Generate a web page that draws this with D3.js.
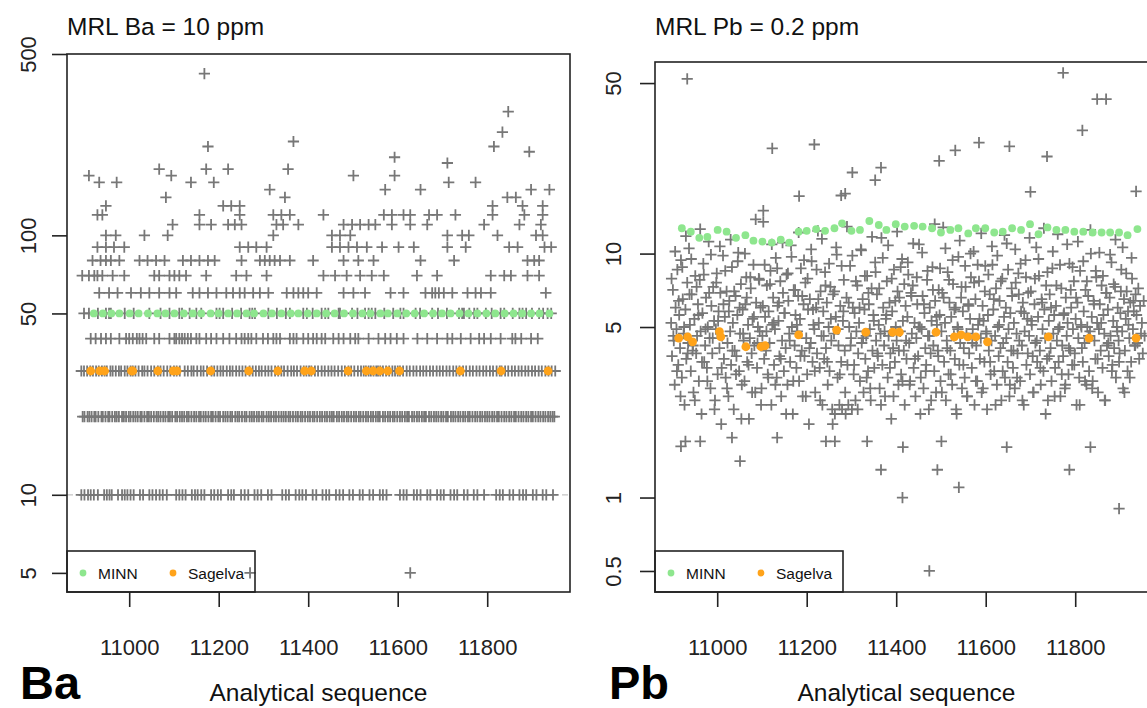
<!DOCTYPE html>
<html><head><meta charset="utf-8">
<script src="https://cdn.jsdelivr.net/npm/d3@7"></script>
<style>body{margin:0;background:#fff}svg{display:block}text{font-family:"Liberation Sans",Arial,Helvetica,sans-serif}</style>
</head><body><svg id="c" width="1147" height="708"></svg>
<script>
// ---------------- DATA ----------------
const xTicks = [11000, 11200, 11400, 11600, 11800];
const baTicks = [5, 10, 50, 100, 500];
const pbTicks = [0.5, 1, 5, 10, 50];
const baMRL = 10, pbMRL = 0.2;

// MINN reference material (analytical sequence numbers) and values
const minnSeq = [10921,10941,10960,10978,11001,11021,11042,11063,11081,11101,11122,11142,11161,11182,11200,11221,11241,11262,11279,11300,11319,11340,11361,11378,11399,11419,11440,11459,11480,11500,11521,11539,11561,11578,11599,11619,11638,11659,11679,11699,11718,11738,11758,11778,11798,11818,11839,11859,11878,11898,11917,11939];
const minnBa = [50,50,50,50,50,50,50,50,50,50,50,50,50,50,50,50,50,50,50,50,50,50,50,50,50,50,50,50,50,50,50,50,50,50,50,50,50,50,50,50,50,50,50,50,50,50,50,50,50,50,50,50];
const minnPb = [12.7,12.3,11.6,11.7,12.5,12.3,11.6,11.9,11.3,11.2,11.1,11.4,11.1,12.3,12.4,12.6,12.4,12.7,13.3,12.4,12.5,13.6,13.1,12.5,13.2,12.9,13.0,12.9,12.7,12.2,12.5,12.7,12.1,12.7,12.7,12.2,12.3,12.7,12.5,13.2,12.0,12.8,12.5,12.5,12.3,12.3,12.2,12.2,12.2,12.2,11.9,12.6];

// Sagelva reference material
const sagSeq = [10914,10934,10945,11005,11008,11064,11098,11107,11182,11267,11332,11392,11407,11489,11530,11545,11560,11578,11604,11740,11831,11936];
const sagBa = [30,30,30,30,30,30,30,30,30,30,30,30,30,30,30,30,30,30,30,30,30,30];
const sagPb = [4.50,4.56,4.35,4.79,4.56,4.15,4.15,4.19,4.64,4.86,4.76,4.76,4.76,4.76,4.56,4.64,4.56,4.56,4.35,4.56,4.50,4.50];

// Ba samples: sequence numbers per reported level (ppm)
const ba5 = [11270, 11628];
const ba10 = [10893,10900,10908,10914,10921,10930,10944,10950,10956,10961,10975,10984,10990,10996,11003,11010,11024,11031,11045,11052,11060,11068,11075,11084,11105,11112,11119,11126,11140,11147,11153,11161,11168,11183,11190,11198,11205,11221,11228,11234,11250,11258,11266,11280,11287,11295,11310,11318,11342,11350,11357,11372,11380,11387,11395,11410,11418,11432,11440,11447,11462,11470,11478,11492,11500,11515,11522,11537,11545,11560,11567,11575,11605,11613,11620,11636,11643,11651,11666,11673,11688,11696,11703,11718,11726,11733,11748,11756,11770,11778,11793,11820,11828,11835,11850,11858,11872,11880,11887,11902,11910,11924,11932,11947];
const ba20 = [10896,10900,10907,10911,10916,10922,10925,10931,10938,10941,10947,10953,10956,10962,10968,10972,10977,10984,10988,10993,10999,11003,11009,11014,11019,11025,11028,11034,11040,11044,11049,11055,11061,11065,11070,11076,11081,11087,11091,11096,11103,11107,11113,11118,11123,11129,11133,11139,11145,11150,11156,11160,11166,11171,11177,11183,11187,11193,11199,11203,11210,11215,11220,11226,11230,11237,11242,11246,11252,11258,11262,11269,11274,11279,11285,11290,11296,11300,11307,11312,11317,11323,11328,11334,11340,11345,11350,11356,11360,11366,11372,11377,11383,11387,11393,11399,11404,11410,11414,11420,11426,11431,11437,11442,11448,11453,11457,11464,11469,11475,11480,11486,11490,11496,11502,11507,11513,11517,11523,11529,11534,11540,11545,11551,11556,11560,11567,11572,11578,11583,11589,11593,11599,11605,11610,11616,11621,11625,11632,11637,11643,11648,11654,11659,11663,11670,11675,11681,11686,11691,11697,11702,11708,11712,11719,11724,11729,11735,11740,11746,11751,11757,11761,11767,11773,11778,11784,11789,11795,11800,11805,11811,11816,11822,11826,11832,11838,11843,11849,11854,11860,11864,11870,11876,11881,11887,11892,11898,11902,11908,11914,11919,11925,11930,11936,11941,11946,11950];
const ba30 = [10893,10899,10906,10913,10919,10926,10932,10939,10945,10950,10958,10963,10970,10977,10982,10990,10996,11003,11008,11014,11021,11029,11034,11041,11049,11056,11064,11070,11077,11085,11092,11100,11106,11113,11124,11131,11139,11144,11152,11160,11166,11174,11184,11190,11197,11204,11210,11218,11225,11231,11239,11246,11253,11260,11269,11276,11283,11290,11296,11304,11311,11318,11326,11333,11340,11346,11354,11362,11368,11375,11383,11390,11396,11402,11407,11415,11422,11430,11437,11445,11452,11459,11467,11475,11482,11490,11496,11503,11511,11518,11524,11529,11535,11540,11546,11552,11556,11561,11567,11574,11581,11588,11594,11600,11605,11612,11620,11627,11635,11642,11650,11657,11664,11672,11679,11687,11694,11701,11709,11716,11724,11731,11738,11746,11753,11761,11768,11776,11783,11791,11798,11806,11813,11821,11828,11832,11840,11847,11855,11862,11870,11877,11885,11892,11900,11907,11915,11922,11930,11937,11944,11952];
const ba40 = [10914,10925,10937,10948,10959,10978,10993,11000,11008,11017,11023,11030,11038,11056,11067,11090,11101,11105,11112,11118,11124,11131,11138,11150,11157,11172,11183,11195,11210,11224,11239,11251,11258,11266,11273,11284,11299,11310,11322,11329,11337,11359,11367,11374,11389,11400,11411,11419,11430,11438,11456,11468,11479,11494,11505,11512,11535,11557,11572,11584,11598,11613,11644,11666,11688,11711,11722,11741,11763,11782,11793,11808,11830,11856,11863,11876,11898,11913];
const ba50 = [10899,10910,10930,10948,10955,10959,10990,11010,11045,11070,11090,11112,11118,11135,11150,11161,11195,11202,11210,11230,11250,11269,11275,11281,11311,11330,11350,11359,11389,11397,11410,11430,11438,11445,11468,11471,11498,11510,11527,11535,11542,11550,11570,11590,11606,11613,11640,11650,11677,11690,11710,11737,11744,11748,11760,11771,11778,11797,11810,11830,11838,11857,11872,11879,11887,11900,11916,11925,11935,11943];
const ba60 = [10933,10955,10974,11004,11026,11045,11067,11090,11105,11142,11157,11176,11195,11217,11232,11247,11258,11277,11292,11311,11352,11367,11378,11389,11400,11419,11479,11501,11527,11584,11613,11662,11677,11684,11692,11703,11722,11756,11774,11786,11808,11931];
const ba70 = [10895,10910,10922,10929,10940,10963,10989,11056,11067,11090,11101,11112,11127,11172,11239,11262,11307,11434,11460,11486,11516,11542,11569,11643,11688,11808,11838,11853,11890,11916];
const ba80 = [10918,10936,10948,10959,10978,11023,11041,11060,11079,11120,11138,11157,11176,11191,11251,11292,11303,11314,11325,11337,11359,11411,11479,11512,11546,11651,11726,11890,11905,11916];
const ba90 = [10929,10948,10966,10989,11247,11266,11284,11307,11453,11471,11490,11509,11531,11565,11602,11636,11711,11752,11849,11868,11928,11943];
const ba100 = [10948,10970,11034,11086,11322,11453,11471,11494,11711,11744,11759,11823,11909,11924];
const ba110 = [11097,11157,11183,11221,11236,11251,11329,11344,11378,11479,11498,11516,11535,11550,11587,11628,11666,11793,11872,11920];
const ba120 = [10929,10940,11157,11247,11322,11340,11359,11434,11569,11587,11613,11628,11670,11688,11729,11812,11883,11924];
const ba130 = [10948,11210,11228,11247,11812,11879,11924];
const ba140 = [11082,11348,11845,11864];
const ba150 = [11314,11572,11651,11898,11939];
const ba160 = [10933,10972,11138,11189,11714,11774];
const ba170 = [10910,11094,11501,11593];
const ba180 = [11067,11172,11221,11355];
const baHighSeq = [11711,11593,11894,11176,11815,11367,11834,11847,11168];
const baHighVal = [190,200,210,220,220,230,250,300,420];

// Pb samples (set A): analytical sequence from pbStart, every pbStep-th analysis
const pbStart = 10897, pbStep = 2;
const pbValues = [
5.2,3.8,7.1,4.4,2.9,6.0,4.9,8.6,3.5,5.6, 4.1,9.4,3.1,6.5,4.7,2.4,5.9,3.7,7.6,4.3,
10.5,5.1,3.3,6.8,4.0,2.7,5.4,8.1,3.9,4.6, 6.2,3.0,7.8,4.8,2.2,5.7,9.1,3.6,4.2,6.6,
3.4,5.0,11.2,4.5,2.8,6.1,3.9,7.3,5.3,2.5, 4.9,8.3,3.2,5.8,4.1,6.9,2.0,4.6,9.8,3.7,
5.5,3.1,7.0,4.3,2.6,6.4,4.8,3.5,8.8,5.2, 2.3,4.0,6.7,3.8,5.6,10.1,3.3,4.7,7.5,2.9,
5.9,4.4,3.0,6.2,8.0,3.6,5.1,2.1,4.5,7.2, 3.9,5.4,9.0,4.2,2.7,6.3,3.4,5.0,7.9,4.8,
6.0,2.8,4.6,13.5,3.7,5.5,4.0,7.4,3.2,5.8, 4.3,8.5,2.4,5.1,6.6,3.5,4.9,9.6,3.1,6.1,
5.3,3.8,7.7,2.6,4.4,6.9,3.3,5.7,4.1,8.2, 2.9,6.4,4.7,3.6,10.8,5.0,2.2,7.1,4.2,5.6,
3.4,4.8,6.7,3.0,5.4,8.7,4.0,2.6,6.2,3.8, 7.6,4.5,3.2,5.9,2.0,6.5,4.3,9.3,3.6,5.1,
4.9,2.7,6.0,3.9,12.4,5.2,3.4,7.0,4.6,2.4, 5.8,3.7,8.4,4.1,6.3,2.9,5.0,3.3,7.3,4.4,
2.3,6.8,4.7,2.2,5.5,9.9,3.1,4.2,2.4,6.1, 3.6,2.3,5.3,7.8,4.0,2.2,6.6,3.5,2.4,5.0,
8.9,4.5,2.3,6.0,3.2,5.7,2.5,4.8,7.4,3.9, 5.2,3.0,10.4,4.3,6.5,2.7,5.9,3.7,4.6,8.1,
3.3,6.2,4.9,2.5,7.2,4.0,5.6,3.4,9.2,4.4, 6.8,3.8,5.1,2.8,4.7,11.6,3.5,6.0,4.2,2.6,
5.4,7.7,3.1,4.6,6.3,3.9,2.1,5.8,4.1,8.6, 3.6,5.0,4.4,7.0,2.9,6.6,4.8,3.2,9.5,5.3,
4.0,2.4,6.1,3.7,5.5,8.2,4.3,3.0,6.9,4.7, 7.4,3.4,5.2,2.6,4.5,6.2,3.8,10.9,5.0,3.1,
4.9,6.7,2.8,5.7,4.1,3.5,7.8,4.6,2.3,6.0, 3.9,5.3,8.8,4.2,3.3,6.4,2.7,5.1,4.0,7.1,
5.6,3.0,4.8,6.9,12.8,3.6,5.2,2.5,4.4,8.4, 3.2,6.3,4.0,5.5,2.9,7.5,4.6,3.7,6.0,2.2,
5.0,9.7,3.5,4.3,6.6,2.8,5.8,4.1,3.1,7.3, 4.7,2.6,6.2,3.9,5.4,8.0,3.4,4.9,10.2,2.4,
6.5,4.2,3.0,5.1,7.7,3.7,4.5,2.7,6.1,5.3, 3.6,8.9,4.8,2.3,5.6,4.0,6.8,3.2,4.4,9.0,
5.9,3.3,4.6,7.2,2.9,5.0,3.8,6.4,4.1,2.5, 7.9,4.3,5.5,3.1,6.0,11.0,3.6,4.9,2.6,5.7,
4.0,6.7,3.4,5.2,2.8,7.6,4.7,3.9,8.3,4.4, 3.0,5.8,4.2,6.3,2.4,4.8,9.4,3.5,5.4,6.9,
4.6,3.2,7.0,5.1,3.8,2.7,6.2,4.3,10.6,3.6, 5.5,8.1,4.0,2.9,6.5,4.9,3.3,5.9,4.5,7.4,
3.7,2.5,5.3,6.8,4.1,3.0,8.7,4.7,5.6,3.4, 6.1,4.4,12.0,3.6,5.0,2.6,7.2,4.2,3.8,5.7,
2.8,6.6,4.6,5.2,3.2,9.1,4.0,6.0,3.5,4.9, 7.7,3.9,5.4,2.4,6.3,4.5,3.1,8.5,5.1,4.1,
3.6,5.8,4.3,7.1,2.9,5.0,6.7,3.3,4.8,10.0, 5.5,3.0,6.4,4.4,3.7,8.0,5.2,2.7,4.9,6.2,
4.0,7.4,3.4,5.6,4.7,2.5,6.9,4.2,5.9,3.8, 6.6,4.6,9.2,3.5,5.3,4.1,7.3,3.1,5.0,6.0,
4.4,3.9,5.7,8.6,4.8,2.8,6.5,4.0,5.4,7.0, 3.3,5.1,4.5,6.3,3.6,7.9,4.9,5.8,4.2,6.8,
5.6,4.3,7.2,3.7,6.1,4.7,5.2,3.9,6.4,4.6];
// Pb samples (set B): from pbStartB, every pbStepB-th analysis
const pbStartB = 10898, pbStepB = 4;
const pbValuesB = [
7.9,4.6,10.2,3.3,6.4,2.6,8.8,5.0,11.8,3.9, 6.8,9.5,4.2,2.5,7.3,5.6,12.6,3.6,8.2,4.9,
3.0,6.9,9.9,4.5,2.3,7.6,5.3,10.7,3.4,6.2, 8.5,2.8,5.8,11.4,4.0,7.0,3.2,9.3,6.0,2.1,
4.7,10.0,6.6,3.5,8.0,2.7,5.5,13.8,4.3,7.8, 2.4,6.1,9.0,4.8,3.1,7.5,10.9,5.2,2.9,8.7,
6.3,3.7,11.1,5.7,2.2,8.3,4.4,9.7,3.0,7.1, 5.1,12.2,3.8,6.7,9.4,2.6,7.9,4.1,10.4,5.9,
3.3,8.6,6.5,2.5,11.5,4.6,7.4,3.6,9.1,5.4, 2.0,7.0,10.6,4.9,3.2,8.9,5.8,2.7,12.9,6.3,
4.2,9.8,3.5,7.7,2.3,6.0,10.3,4.5,8.1,3.1, 6.9,2.8,11.7,5.3,8.4,3.9,7.2,2.4,9.6,4.8,
5.6,10.8,3.4,7.9,2.6,6.4,12.3,4.0,8.8,3.0, 7.5,4.4,9.2,2.9,6.7,11.0,3.7,8.0,5.0,2.2,
10.1,6.2,3.3,8.5,4.6,2.5,7.1,13.2,5.5,3.8, 8.7,2.7,6.6,10.5,4.1,7.8,3.2,9.4,5.9,2.3,
4.9,11.3,7.3,3.5,8.9,2.6,6.1,10.0,4.3,7.6, 3.0,9.0,5.4,12.1,2.8,7.0,4.7,8.2,3.6,10.7,
6.5,2.4,9.8,5.1,7.7,3.3,11.9,4.5,8.6,2.9, 7.2,4.0,10.4,3.1,6.8,9.1,2.5,5.7,8.0,3.9,
11.6,5.3,2.7,7.9,4.4,9.5,3.4,6.3,12.7,2.2, 8.4,3.8,6.0,10.2,2.6,7.4,4.9,9.0,3.2,5.6,
2.9,10.9,4.1,7.1,8.8,3.5,6.6,11.2,2.4,5.0, 9.3,3.0,7.7,4.6,12.5,2.8,6.2,8.5,3.7,10.1,
5.2,8.1,2.5,6.9,4.3,9.9,3.3,7.5,11.4,4.8, 3.6,7.0,10.6,2.7,8.3,5.8,3.1,9.6,6.4,4.2];
// Pb outliers (high and low), read individually
const pbOutSeq = [10933,11103,11123,11183,11217,11277,11286,11302,11353,11366,11496,11532,11585,11653,11700,11737,11773,11816,11849,11869,11936,
                  10919,10929,10962,11033,11051,11134,11243,11263,11335,11366,11414,11415,11492,11501,11540,11474,11647,11787,11834,11898];
const pbOutVal = [52,15,27,17.2,28,17.3,17.6,21.5,20,22.5,24,26.5,28.5,27.5,17.9,25,55,32,43,43,18,
                  1.62,1.70,1.70,1.76,1.41,1.76,1.70,1.70,1.70,1.30,1.0,1.61,1.30,1.70,1.10,0.5,1.61,1.30,1.61,0.90];

// ---------------- BUILD ----------------
const baLevels = [[5,ba5],[10,ba10],[20,ba20],[30,ba30],[40,ba40],[50,ba50],[60,ba60],[70,ba70],[80,ba80],[90,ba90],[100,ba100],[110,ba110],[120,ba120],[130,ba130],[140,ba140],[150,ba150],[160,ba160],[170,ba170],[180,ba180]];
const baPoints = [];
baLevels.forEach(([v, arr]) => arr.forEach(s => baPoints.push({s, v})));
baHighSeq.forEach((s, i) => baPoints.push({s, v: baHighVal[i]}));
const pbPoints = pbValues.map((v, i) => ({s: pbStart + i * pbStep, v}));
pbValuesB.forEach((v, i) => pbPoints.push({s: pbStartB + i * pbStepB, v}));
pbOutSeq.forEach((s, i) => pbPoints.push({s, v: pbOutVal[i]}));

const svg = d3.select("#c");
const FONT = '"Liberation Sans",Arial,Helvetica,sans-serif';
const seqDomain = [10861, 11985];
const BOTTOM = 592, PW = 503;

function panel(cfg, idx) {
  const L = cfg.left, T = cfg.top;
  const x = d3.scaleLinear().domain(seqDomain).range([L, L + PW]);
  const y = d3.scaleLog().domain(cfg.yDomain).range([BOTTOM, T]);
  const g = svg.append("g");
  const cid = "clip" + idx;
  g.append("clipPath").attr("id", cid).append("rect")
    .attr("x", L).attr("y", T).attr("width", PW).attr("height", BOTTOM - T);
  const pg = g.append("g").attr("clip-path", `url(#${cid})`);
  if (cfg.mrl > cfg.yDomain[0]) {
    pg.append("line").attr("x1", L).attr("x2", L + PW).attr("y1", y(cfg.mrl)).attr("y2", y(cfg.mrl))
      .attr("stroke", "#c4c4c4").attr("stroke-width", 1.3).attr("stroke-dasharray", "6,5");
  }
  const h = 5.6;
  pg.append("g").selectAll("path").data(cfg.points).join("path")
    .attr("d", d => { const px = x(d.s), py = y(d.v); return `M${px - h},${py}H${px + h}M${px},${py - h}V${py + h}`; })
    .attr("stroke", "#777777").attr("stroke-width", 1.8).attr("fill", "none");
  pg.append("g").selectAll("circle").data(cfg.minn).join("circle")
    .attr("cx", d => x(d.s)).attr("cy", d => y(d.v)).attr("r", 3.9).attr("fill", "#8ee68e");
  pg.append("g").selectAll("circle").data(cfg.sag).join("circle")
    .attr("cx", d => x(d.s)).attr("cy", d => y(d.v)).attr("r", 4.4).attr("fill", "#ffa31a");
  // box
  g.append("rect").attr("x", L).attr("y", T).attr("width", PW).attr("height", BOTTOM - T)
    .attr("fill", "none").attr("stroke", "#222").attr("stroke-width", 1.6);
  // y axis
  const ya = g.append("g").attr("transform", `translate(${L},0)`)
    .call(d3.axisLeft(y).tickValues(cfg.yTicks).tickFormat(d => String(d)).tickSize(15));
  ya.select(".domain").remove();
  ya.selectAll("line").attr("stroke", "#222").attr("stroke-width", 1.6);
  ya.selectAll("text").attr("x", 0).attr("dy", 0).attr("text-anchor", "middle")
    .attr("transform", `translate(${-cfg.ylabOff},0) rotate(-90)`)
    .attr("font-size", 22).attr("font-family", FONT).attr("fill", "#222");
  // x axis
  const xa = g.append("g").attr("transform", `translate(0,${BOTTOM})`)
    .call(d3.axisBottom(x).tickValues(xTicks).tickFormat(d => String(d)).tickSize(15));
  xa.select(".domain").remove();
  xa.selectAll("line").attr("stroke", "#222").attr("stroke-width", 1.6);
  xa.selectAll("text").attr("y", 63).attr("dy", 0)
    .attr("font-size", 22).attr("font-family", FONT).attr("fill", "#222");
  // titles
  g.append("text").attr("x", L).attr("y", 35).attr("font-size", 24.5).attr("fill", "#111").text(cfg.title);
  g.append("text").attr("x", L + PW / 2).attr("y", 701).attr("text-anchor", "middle")
    .attr("font-size", 24.5).attr("fill", "#111").text("Analytical sequence");
  g.append("text").attr("x", cfg.tagX).attr("y", 699).attr("font-size", 47).attr("font-weight", "bold")
    .attr("fill", "#000").text(cfg.tag);
  // legend
  const lg = g.append("g");
  lg.append("rect").attr("x", L).attr("y", 551).attr("width", 188).attr("height", BOTTOM - 551)
    .attr("fill", "none").attr("stroke", "#222").attr("stroke-width", 1.6);
  lg.append("circle").attr("cx", L + 16).attr("cy", 573).attr("r", 3.4).attr("fill", "#8ee68e");
  lg.append("text").attr("x", L + 31).attr("y", 578.5).attr("font-size", 15.5).attr("fill", "#111").text("MINN");
  lg.append("circle").attr("cx", L + 106).attr("cy", 573).attr("r", 3.4).attr("fill", "#ffa31a");
  lg.append("text").attr("x", L + 121).attr("y", 578.5).attr("font-size", 15.5).attr("fill", "#111").text("Sagelva");
}

panel({
  left: 67, top: 54, yDomain: [4.22, 500], yTicks: baTicks, mrl: baMRL, ylabOff: 31,
  points: baPoints,
  minn: minnSeq.map((s, i) => ({s, v: minnBa[i]})),
  sag: sagSeq.map((s, i) => ({s, v: sagBa[i]})),
  title: "MRL Ba = 10 ppm", tag: "Ba", tagX: 20
}, 0);
panel({
  left: 655, top: 62, yDomain: [0.41, 61], yTicks: pbTicks, mrl: pbMRL, ylabOff: 34,
  points: pbPoints,
  minn: minnSeq.map((s, i) => ({s, v: minnPb[i]})),
  sag: sagSeq.map((s, i) => ({s, v: sagPb[i]})),
  title: "MRL Pb = 0.2 ppm", tag: "Pb", tagX: 609
}, 1);
</script></body></html>
